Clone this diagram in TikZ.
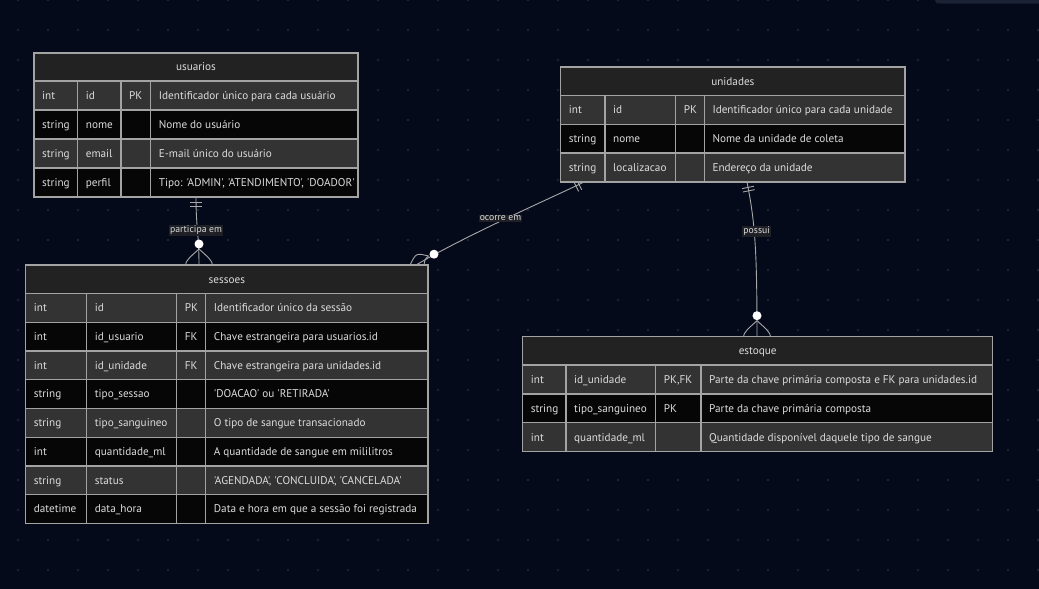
\documentclass[tikz,border=0pt]{standalone}
\usepackage{fontspec}
\setmainfont{PT Sans}[Ligatures=TeXOff]
\usetikzlibrary{calc}
\pgfdeclarelayer{bglayer}
\pgfdeclarelayer{connlayer}
\pgfsetlayers{bglayer,connlayer,main}
\definecolor{bgc}{HTML}{040A1A}
\definecolor{dotc}{HTML}{1E2535}
\definecolor{hdrbg}{HTML}{222222}
\definecolor{rowg}{HTML}{333333}
\definecolor{rowd}{HTML}{060606}
\definecolor{bord}{HTML}{A3A3A3}
\definecolor{txt}{HTML}{DCDCDC}
\definecolor{lnk}{HTML}{A8A8A8}
\definecolor{lblbg}{HTML}{1E2026}
\definecolor{topbar}{HTML}{1B2233}
\newcommand\cellfont{\fontsize{11.2pt}{13pt}\selectfont}
\newcommand\lblfont{\fontsize{9.7pt}{11pt}\selectfont}
\tikzset{
  cell/.style={anchor=base west, text=txt, font=\cellfont, inner sep=0pt},
  grid/.style={draw=bord, line width=1.2pt},
  conn/.style={draw=lnk, line width=0.9pt},
  lbl/.style={fill=lblbg, text=txt, font=\lblfont, inner sep=1pt},
  rowG/.style={fill=rowg},
  rowD/.style={fill=rowd},
  frame/.style={anchor=north west, inner sep=0pt, outer sep=0pt},
}
\newcommand\hdr[4]{%
  \fill[hdrbg] (\cA,#2) rectangle (\cE,#3);
  \node[font=\cellfont, text=txt, anchor=base, inner sep=0pt] (#1-title) at ({(\cA+\cE)/2},{(#2+#3)/2+3.8}) {#4};
}
\newcommand\erow[8]{%
  \fill[#4] (\cA,#2) rectangle (\cE,#3);
  \node[cell] (#1-t) at ({\cA+8},{(#2+#3)/2+3.8}) {#5};
  \node[cell] (#1-n) at ({\cB+8},{(#2+#3)/2+3.8}) {#6};
  \node[cell] (#1-k) at ({\cC+8},{(#2+#3)/2+3.8}) {#7};
  \node[cell] (#1-c) at ({\cD+8},{(#2+#3)/2+3.8}) {#8};
  \draw[grid] (\cA,#2) -- (\cE,#2);
  \draw[grid] (\cB,#2) -- (\cB,#3) (\cC,#2) -- (\cC,#3) (\cD,#2) -- (\cD,#3);
}
\newcommand\oneend[5]{%
  \draw[conn] ($(#1)+5.5*(#2,#3)+6*(#4,#5)$) -- ($(#1)+5.5*(#2,#3)-6*(#4,#5)$);
  \draw[conn] ($(#1)+9*(#2,#3)+6*(#4,#5)$) -- ($(#1)+9*(#2,#3)-6*(#4,#5)$);
}
\newcommand\manyend[5]{%
  \draw[conn] ($(#1)+16*(#2,#3)$) .. controls ($(#1)+18*(#4,#5)$) .. ($(#1)-16*(#2,#3)$);
  \draw[conn] ($(#1)+16*(#2,#3)$) .. controls ($(#1)-18*(#4,#5)$) .. ($(#1)-16*(#2,#3)$);
  \fill[white] ($(#1)+21*(#2,#3)$) circle (4.5);
}
\begin{document}
\begin{tikzpicture}[x=1pt,y=-1pt]
\useasboundingbox (0,0) rectangle (1039,589);
\begin{pgfonlayer}{bglayer}
  \fill[bgc] (0,0) rectangle (1039,589);
  \foreach \x in {18,48,...,1038} \foreach \y in {0,30,...,570} \fill[dotc] (\x,\y) circle (1.4);
  \fill[topbar] (935,0) .. controls (936,3.5) .. (941,3.5) -- (1039,3.5) -- (1039,0) -- cycle;
\end{pgfonlayer}

% usuarios
\def\cA{34}\def\cB{77.7}\def\cC{121}\def\cD{150.7}\def\cE{358}
\node[frame, minimum width={(\cE-\cA)*1pt}, minimum height={(197-53)*1pt}] (usuarios) at (\cA,53) {};
\hdr{usuarios}{53}{81}{usuarios}
\erow{u1}{81}{110}{rowG}{int}{id}{PK}{Identificador único para cada usuário}
\erow{u2}{110}{139}{rowD}{string}{nome}{}{Nome do usuário}
\erow{u3}{139}{168}{rowG}{string}{email}{}{E-mail único do usuário}
\erow{u4}{168}{197}{rowD}{string}{perfil}{}{Tipo: 'ADMIN', 'ATENDIMENTO', 'DOADOR'}
\draw[grid] (usuarios.north west) rectangle (usuarios.south east);

% unidades
\def\cA{560.7}\def\cB{605}\def\cC{675.7}\def\cD{704.3}\def\cE{905}
\node[frame, minimum width={(\cE-\cA)*1pt}, minimum height={(182-67)*1pt}] (unidades) at (\cA,67) {};
\hdr{unidades}{67}{95.5}{unidades}
\erow{n1}{95.5}{124.3}{rowG}{int}{id}{PK}{Identificador único para cada unidade}
\erow{n2}{124.3}{153}{rowD}{string}{nome}{}{Nome da unidade de coleta}
\erow{n3}{153}{182}{rowG}{string}{localizacao}{}{Endereço da unidade}
\draw[grid] (unidades.north west) rectangle (unidades.south east);

% sessoes
\def\cA{25.7}\def\cB{86.7}\def\cC{176.7}\def\cD{205.7}\def\cE{428}
\node[frame, minimum width={(\cE-\cA)*1pt}, minimum height={(523.5-265)*1pt}] (sessoes) at (\cA,265) {};
\hdr{sessoes}{265}{293.5}{sessoes}
\erow{s1}{293.5}{322.25}{rowG}{int}{id}{PK}{Identificador único da sessão}
\erow{s2}{322.25}{351}{rowD}{int}{id\_usuario}{FK}{Chave estrangeira para usuarios.id}
\erow{s3}{351}{379.75}{rowG}{int}{id\_unidade}{FK}{Chave estrangeira para unidades.id}
\erow{s4}{379.75}{408.5}{rowD}{string}{tipo\_sessao}{}{'DOACAO' ou 'RETIRADA'}
\erow{s5}{408.5}{437.25}{rowG}{string}{tipo\_sanguineo}{}{O tipo de sangue transacionado}
\erow{s6}{437.25}{466}{rowD}{int}{quantidade\_ml}{}{A quantidade de sangue em mililitros}
\erow{s7}{466}{494.75}{rowG}{string}{status}{}{'AGENDADA', 'CONCLUIDA', 'CANCELADA'}
\erow{s8}{494.75}{523.5}{rowD}{datetime}{data\_hora}{}{Data e hora em que a sessão foi registrada}
\draw[grid] (sessoes.north west) rectangle (sessoes.south east);

% estoque
\def\cA{522.7}\def\cB{566}\def\cC{655.7}\def\cD{701}\def\cE{992.7}
\node[frame, minimum width={(\cE-\cA)*1pt}, minimum height={(451.7-336.7)*1pt}] (estoque) at (\cA,336.7) {};
\hdr{estoque}{336.7}{365}{estoque}
\erow{e1}{365}{394}{rowG}{int}{id\_unidade}{PK,FK}{Parte da chave primária composta e FK para unidades.id}
\erow{e2}{394}{422.7}{rowD}{string}{tipo\_sanguineo}{PK}{Parte da chave primária composta}
\erow{e3}{422.7}{451.7}{rowG}{int}{quantidade\_ml}{}{Quantidade disponível daquele tipo de sangue}
\draw[grid] (estoque.north west) rectangle (estoque.south east);

\begin{pgfonlayer}{connlayer}
  % participa em
  \coordinate (pu1) at ($(usuarios.south west)+(162,0)$);
  \coordinate (ps1) at ($(sessoes.north west)+(173.3,0)$);
  \draw[conn] (pu1) .. controls +(0,30) and +(0,-30) .. (ps1);
  \oneend{pu1}{0}{1}{1}{0}
  \manyend{ps1}{0}{-1}{1}{0}
  \node[lbl] (lab1) at (196,230.5) {participa em};
  % ocorre em
  \coordinate (pu2) at ($(unidades.south west)+(23.3,0)$);
  \coordinate (ps2) at ($(sessoes.north west)+(390.3,0)$);
  \draw[conn] (pu2) .. controls +(-24,12) and +(51.6,-30.6) .. (ps2);
  \oneend{pu2}{-0.894}{0.447}{0.447}{0.894}
  \draw[conn] ($(ps2)+(12.5,-9)$) .. controls ($(ps2)+(0,-12)$) .. ($(ps2)+(-6,0)$);
  \draw[conn] ($(ps2)+(12.5,-9)$) .. controls ($(ps2)+(9,-6)$) .. ($(ps2)+(8,0)$);
  \fill[white] ($(ps2)+(18,-10.8)$) circle (4.5);
  \node[lbl] (lab2) at (500.5,218.5) {ocorre em};
  % possui
  \coordinate (pu3) at ($(unidades.south west)+(186.3,0)$);
  \coordinate (ps3) at ($(estoque.north west)+(234.3,0)$);
  \draw[conn] (pu3) .. controls +(8,40) and +(0,-87) .. (ps3);
  \oneend{pu3}{0.196}{0.98}{0.98}{-0.196}
  \manyend{ps3}{0}{-1}{1}{0}
  \node[lbl] (lab3) at (756.7,231.3) {possui};
\end{pgfonlayer}
\end{tikzpicture}
\end{document}
